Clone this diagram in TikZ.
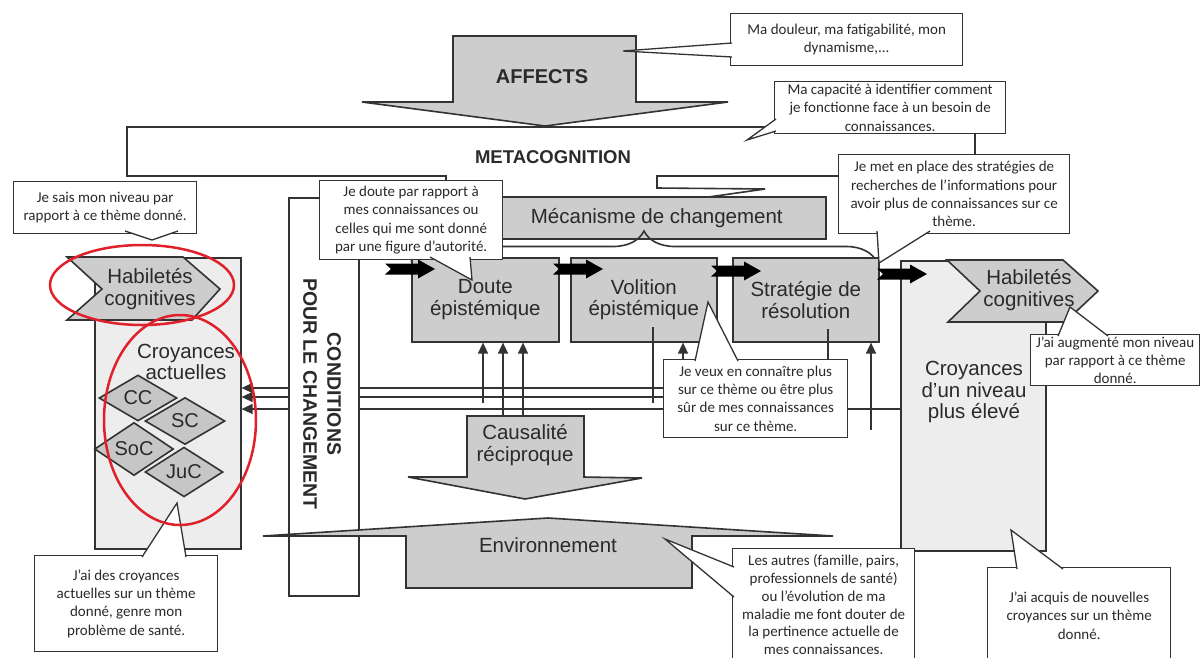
\documentclass[tikz,border=0pt]{standalone}
\usepackage{fontspec}
\setmainfont{Liberation Sans}
\newfontfamily\calfont{Carlito}
\usetikzlibrary{shapes.geometric,decorations.pathreplacing,calc,arrows.meta}

\definecolor{boxgray}{HTML}{CDCDCD}
\definecolor{lightgray2}{HTML}{EDEDED}
\definecolor{dgray}{HTML}{C6C6C6}
\definecolor{edge}{HTML}{333333}
\definecolor{txt}{HTML}{2A2A2A}
\definecolor{redline}{HTML}{E0202A}

\tikzset{
 shapeline/.style={draw=edge, line width=1.6pt, line join=miter},
 darkbox/.style={shapeline, fill=boxgray, rectangle, inner sep=0pt, align=center, text=txt, font=\fontsize{20.5}{21.5}\selectfont},
 lightbox/.style={shapeline, fill=lightgray2, rectangle, inner sep=0pt},
 lbl/.style={align=center, text=txt, inner sep=0pt, font=\fontsize{20.5}{21.5}\selectfont},
 cbox/.style={draw=edge, line width=1.3pt, fill=white, rectangle, inner sep=0pt, align=center, text=txt, font=\calfont\fontsize{15}{18.3}\selectfont},
 ptrline/.style={draw=edge, line width=1.3pt, line join=miter},
 conn/.style={draw=edge, line width=1.3pt},
 connarrow/.style={conn, -{Triangle[length=11pt,width=10pt]}},
 diam/.style={diamond, shapeline, fill=dgray, inner sep=0pt, text=txt, font=\fontsize{20}{22}\selectfont},
 redell/.style={draw=redline, line width=2.5pt},
 blk/.pic={\fill[black] (0,-5.5) -- (33,-5.5) -- (33,-9.5) -- (50,0) -- (33,9.5) -- (33,5.5) -- (0,5.5) -- (6,0) -- cycle;}
}
\newcommand{\cptr}[3]{\fill[white] #1 -- #2 -- #3 -- cycle; \draw[ptrline] #1 -- #2 -- #3;}

\begin{document}
\begin{tikzpicture}[x=1pt,y=-1pt]
\clip (0,0) rectangle (1201,657);
\fill[white] (0,0) rectangle (1201,657);

% METACOGNITION frame
\filldraw[shapeline, fill=white] (127,127) -- (975,127) -- (975,176) -- (657,176) -- (657,188) -- (765,189) -- (645,206) -- (446,196) -- (446,176) -- (127,176) -- cycle;
\node[lbl, font=\bfseries\fontsize{18.5}{20}\selectfont] (metacog) at (553,157) {METACOGNITION};

% AFFECTS arrow
\filldraw[shapeline, fill=boxgray] (453,36) -- (636,36) -- (636,102) -- (728,102) -- (545,126) -- (362,102) -- (453,102) -- cycle;
\node[lbl, font=\bfseries\fontsize{20}{22}\selectfont] (affects) at (542,77) {AFFECTS};

% side boxes
\node[lightbox, minimum width=146, minimum height=291, anchor=north west] (croyA) at (94,257) {};
\node[lightbox, minimum width=145, minimum height=290, anchor=north west] (croyB) at (900,260) {};

% Mecanisme de changement
\node[darkbox, minimum width=338, minimum height=42, anchor=north west] (meca) at (487,196) {\raisebox{3pt}{Mécanisme de changement}};
\draw[shapeline, decorate, decoration={brace, amplitude=31pt}] (411,262) -- (877,262);

% three process boxes
\node[darkbox, minimum width=147, minimum height=84, anchor=north west] (doute) at (411,257) {Doute\\épistémique};
\node[darkbox, minimum width=146, minimum height=84, anchor=north west] (volition) at (570,257) {Volition\\épistémique};
\node[darkbox, minimum width=146, minimum height=84, anchor=north west] (strat) at (732,257) {Stratégie de\\résolution};

% connectors
\draw[connarrow] (700,388) -- (croyA.east |- 0,388);
\draw[connarrow] (700,397) -- (croyA.east |- 0,397);
\draw[connarrow] (croyB.west |- 0,409) -- (croyA.east |- 0,409);
\draw[connarrow] (483,403) -- (doute.south -| 483,0);
\draw[connarrow] (503,416) -- (doute.south -| 503,0);
\draw[connarrow] (523,416) -- (doute.south -| 523,0);
\draw[conn] (653,327) -- (653,403);
\draw[connarrow] (683,380) -- (volition.south -| 683,0);
\draw[conn] (828,329) -- (828,380);
\draw[connarrow] (871,430) -- (strat.south -| 871,0);

% CONDITIONS
\node[shapeline, fill=white, rectangle, inner sep=0pt, minimum width=70, minimum height=398, anchor=north west] (condbox) at (288,197) {};
\node[lbl, rotate=-90, font=\bfseries\fontsize{19.5}{24}\selectfont] (condtxt) at (322,394) {CONDITIONS\\POUR LE CHANGEMENT};

% Causalite reciproque
\filldraw[shapeline, fill=boxgray] (467,416) -- (584,416) -- (584,477) -- (642,478) -- (525,499) -- (408,477) -- (467,477) -- cycle;
\node[lbl] (causal) at (525,445) {Causalité\\réciproque};

% Environnement
\filldraw[shapeline, fill=boxgray] (548,518) -- (833,536) -- (692,536) -- (692,588) -- (406,588) -- (406,536) -- (263,536) -- cycle;
\node[lbl] (env) at (548,545) {Environnement};

% chevrons
\filldraw[shapeline, fill=boxgray] (67,257) -- (183,257) -- (220,289) -- (192,320) -- (67,320) -- (102,289) -- cycle;
\node[lbl] (habA) at (150,289) {Habiletés\\cognitives};
\filldraw[shapeline, fill=boxgray] (947,260) -- (1063,260) -- (1098,291) -- (1065,322) -- (948,322) -- (980,291) -- cycle;
\node[lbl] (habB) at (1029,290) {Habiletés\\cognitives};

% labels in side boxes
\node[lbl] (croyAt) at (186,362) {Croyances\\actuelles};
\node[lbl] (croyBt) at (974,392) {Croyances\\d'un niveau\\plus élevé};

% diamonds
\node[diam, minimum width=78, minimum height=46] (cc) at (138,398) {CC};
\node[diam, minimum width=80, minimum height=47] (sc) at (185,421) {SC};
\node[diam, minimum width=79, minimum height=47] (soc) at (134,449) {SoC};
\node[diam, minimum width=78, minimum height=47] (juc) at (184,472) {JuC};

% black block arrows
\pic at (385,269) {blk};
\pic at (553,269) {blk};
\pic at (711,271) {blk};
\pic at (877,274) {blk};

% callouts
\node[cbox, minimum width=232, minimum height=52, anchor=north west] (c1) at (730,13) {Ma douleur, ma fatigabilité, mon\\dynamisme,...};
\cptr{(732,43)}{(623,51)}{(732,57)}
\node[cbox, minimum width=231, minimum height=52, anchor=north west] (c2) at (774,81) {Ma capacité à identifier comment\\je fonctionne face à un besoin de\\connaissances.};
\cptr{(776,119)}{(747,140)}{(776,131)}
\node[cbox, minimum width=231, minimum height=79, anchor=north west] (c3) at (838,154) {Je met en place des stratégies de\\recherches de l’informations pour\\avoir plus de connaissances sur ce\\thème.};
\cptr{(877,231)}{(879,263)}{(930,231)}
\node[cbox, minimum width=183, minimum height=52, anchor=north west] (c4) at (13,181) {Je sais mon niveau par\\rapport à ce thème donné.};
\cptr{(125,231)}{(152,240)}{(178,231)}
\node[cbox, minimum width=183, minimum height=79, anchor=north west] (c5) at (319,180) {Je doute par rapport à\\mes connaissances ou\\celles qui me sont donné\\par une figure d’autorité.};
\cptr{(430,257)}{(472,280)}{(470,257)}
\node[cbox, minimum width=184, minimum height=78, anchor=north west] (c6) at (663,359) {Je veux en connaître plus\\sur ce thème ou être plus\\sûr de mes connaissances\\sur ce thème.};
\cptr{(695,361)}{(708,302)}{(738,361)}
\node[cbox, minimum width=169, minimum height=51, anchor=north west] (c7) at (1030,334) {J’ai augmenté mon niveau\\par rapport à ce thème\\donné.};
\cptr{(1058,336)}{(1070,307)}{(1108,336)}
\node[cbox, minimum width=183, minimum height=96, anchor=north west] (c8) at (34,555) {J’ai des croyances\\actuelles sur un thème\\donné, genre mon\\problème de santé.};
\cptr{(142,557)}{(177,503)}{(186,557)}
\node[cbox, minimum width=182, minimum height=112, anchor=north west, font=\calfont\fontsize{15}{17.9}\selectfont] (c9) at (732,548) {Les autres (famille, pairs,\\professionnels de santé)\\ou l’évolution de ma\\maladie me font douter de\\la pertinence actuelle de\\mes connaissances.};
\draw[ptrline] (c9.south west) -- +(0,10) (c9.south east) -- +(0,10);
\cptr{(734,567)}{(665,539)}{(734,597)}
\node[cbox, minimum width=183, minimum height=96, anchor=north west] (c10) at (987,567) {J’ai acquis de nouvelles\\croyances sur un thème\\donné.};
\cptr{(1017,569)}{(1011,530)}{(1063,569)}

% red ellipses
\draw[redell] (142,285) ellipse [x radius=92, y radius=40];
\draw[redell] (180,420) ellipse [x radius=76, y radius=105];
\end{tikzpicture}
\end{document}
